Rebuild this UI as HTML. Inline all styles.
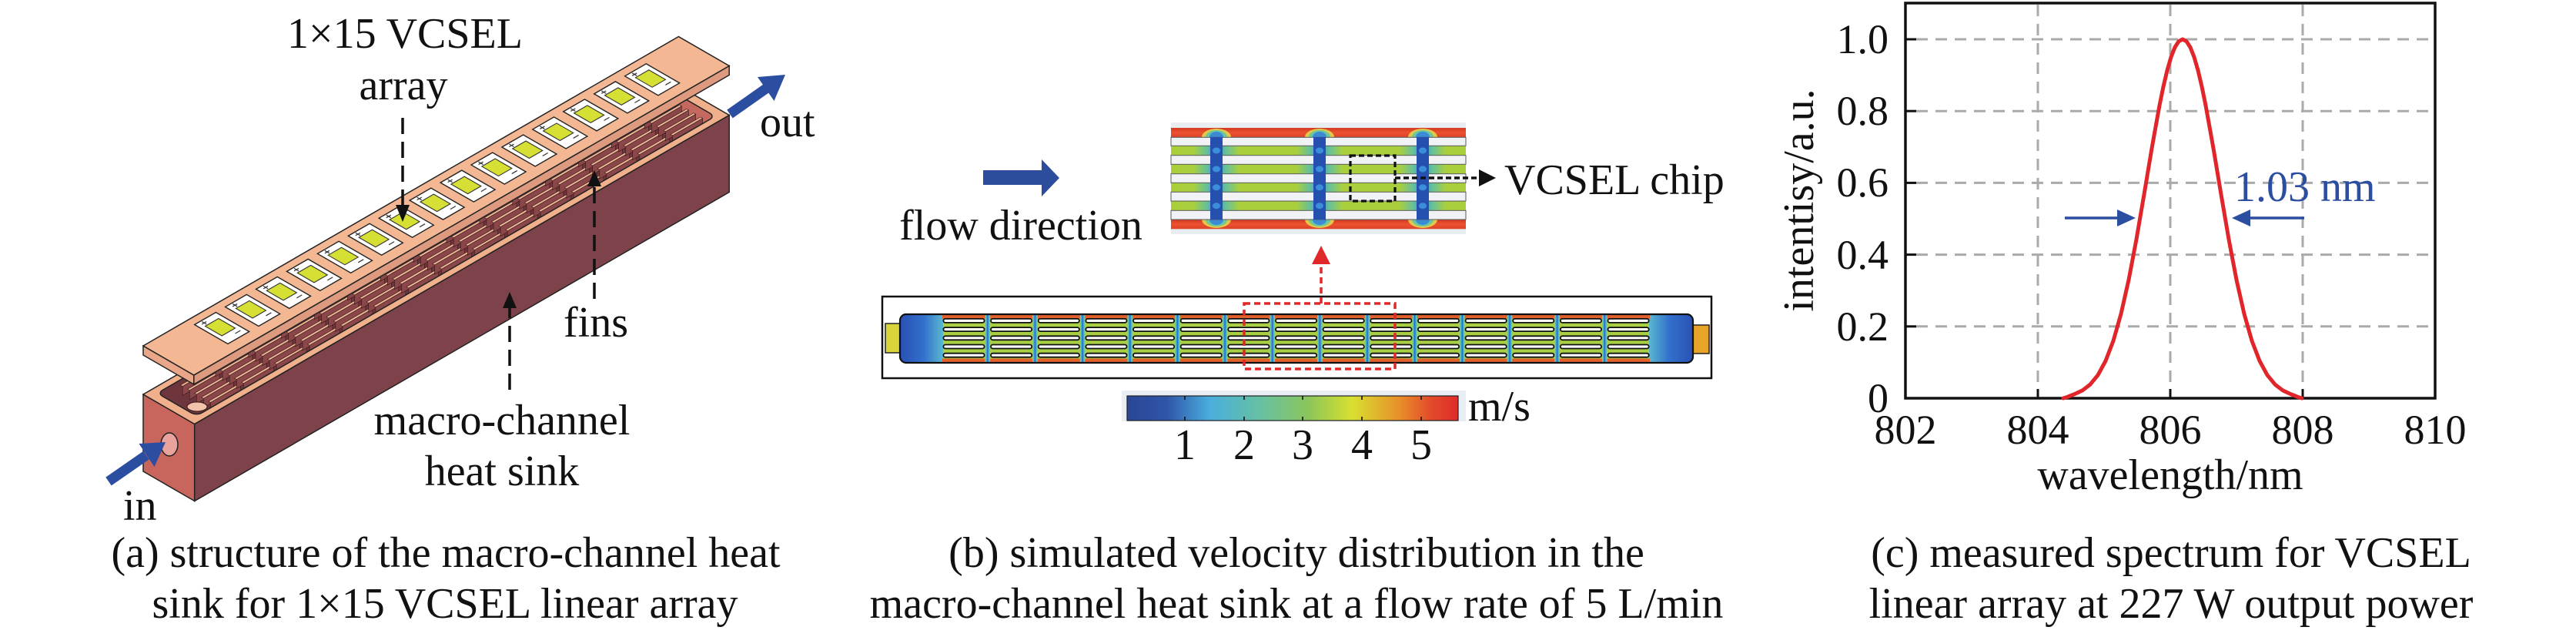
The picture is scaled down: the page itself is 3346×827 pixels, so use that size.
<!DOCTYPE html>
<html><head><meta charset="utf-8">
<style>
html,body{margin:0;padding:0;background:#fff;}
svg{display:block;}
text{font-family:"Liberation Serif","Times New Roman",serif;fill:#111;}
</style></head><body>
<svg xmlns="http://www.w3.org/2000/svg" width="3346" height="827" viewBox="0 0 3346 827">
<defs>
  <linearGradient id="cbar" x1="0" y1="0" x2="1" y2="0">
    <stop offset="0" stop-color="#2a4697"/>
    <stop offset="0.12" stop-color="#2f55a8"/>
    <stop offset="0.25" stop-color="#4aaedd"/>
    <stop offset="0.4" stop-color="#66c0a4"/>
    <stop offset="0.55" stop-color="#8cc65a"/>
    <stop offset="0.68" stop-color="#d8e030"/>
    <stop offset="0.82" stop-color="#e8902a"/>
    <stop offset="0.92" stop-color="#e24a2a"/>
    <stop offset="1" stop-color="#e02a2a"/>
  </linearGradient>
  <linearGradient id="redband" x1="0" y1="0" x2="0" y2="1">
    <stop offset="0" stop-color="#d23a22"/>
    <stop offset="0.5" stop-color="#ec5230"/>
    <stop offset="1" stop-color="#dc4226"/>
  </linearGradient>
  <linearGradient id="gapgrad" x1="0" y1="0" x2="1" y2="0">
    <stop offset="0" stop-color="#8fd07a"/>
    <stop offset="0.3" stop-color="#3eb0e0"/>
    <stop offset="0.5" stop-color="#2c5fc2"/>
    <stop offset="0.7" stop-color="#3eb0e0"/>
    <stop offset="1" stop-color="#8fd07a"/>
  </linearGradient>
  <linearGradient id="halo" x1="0" y1="0" x2="1" y2="0">
    <stop offset="0" stop-color="#5cbfa8" stop-opacity="0"/>
    <stop offset="0.3" stop-color="#5cbfa8" stop-opacity="0.9"/>
    <stop offset="0.5" stop-color="#3a8ad8"/>
    <stop offset="0.7" stop-color="#5cbfa8" stop-opacity="0.9"/>
    <stop offset="1" stop-color="#5cbfa8" stop-opacity="0"/>
  </linearGradient>
  <linearGradient id="plL" x1="0" y1="0" x2="1" y2="0">
    <stop offset="0" stop-color="#2a50b4"/>
    <stop offset="0.55" stop-color="#3270cc"/>
    <stop offset="1" stop-color="#5ab8d0"/>
  </linearGradient>
  <linearGradient id="plR" x1="0" y1="0" x2="1" y2="0">
    <stop offset="0" stop-color="#5ab8d0"/>
    <stop offset="0.45" stop-color="#3270cc"/>
    <stop offset="1" stop-color="#2a50b4"/>
  </linearGradient>
  <clipPath id="bodyclip"><rect x="1169" y="408" width="1030" height="63" rx="8"/></clipPath>

  <g id="fg">
    <rect x="0.9" y="413.9" width="53.2" height="5" rx="2.5" fill="#fff" stroke="#111" stroke-width="1.8"/>
    <rect x="0.9" y="425.1" width="53.2" height="5" rx="2.5" fill="#fff" stroke="#111" stroke-width="1.8"/>
    <rect x="0.9" y="436.3" width="53.2" height="5" rx="2.5" fill="#fff" stroke="#111" stroke-width="1.8"/>
    <rect x="0.9" y="447.5" width="53.2" height="5" rx="2.5" fill="#fff" stroke="#111" stroke-width="1.8"/>
    <rect x="0.9" y="458.7" width="53.2" height="5" rx="2.5" fill="#fff" stroke="#111" stroke-width="1.8"/>
  </g>
  <rect id="gap" x="-6.65" y="408" width="6.65" height="63" fill="url(#gapgrad)"/>

  <g id="pad">
    <rect x="-16" y="11" width="32" height="50" fill="#fff" stroke="#222" stroke-width="1.4" vector-effect="non-scaling-stroke"/>
    <rect x="-10" y="21" width="20" height="25" fill="#d6df33" stroke="#333" stroke-width="1.1" vector-effect="non-scaling-stroke"/>
    <path d="M-10,16 h7 M-6.5,12.5 v7" stroke="#333" stroke-width="1.2" vector-effect="non-scaling-stroke" fill="none"/>
    <path d="M3,53 h8" stroke="#333" stroke-width="1.2" vector-effect="non-scaling-stroke" fill="none"/>
  </g>
  <g id="fin3d" stroke="#3d1c1c" stroke-width="0.7">
    <polygon points="0,19 45,19 33,31 -12,31" fill="#8a4649" vector-effect="non-scaling-stroke"/>
    <rect x="0" y="16" width="45" height="3" fill="#eeb896" vector-effect="non-scaling-stroke"/>
    <polygon points="0,29.5 45,29.5 33,41.5 -12,41.5" fill="#8a4649" vector-effect="non-scaling-stroke"/>
    <rect x="0" y="26.5" width="45" height="3" fill="#eeb896" vector-effect="non-scaling-stroke"/>
    <polygon points="0,40 45,40 33,52 -12,52" fill="#8a4649" vector-effect="non-scaling-stroke"/>
    <rect x="0" y="37" width="45" height="3" fill="#eeb896" vector-effect="non-scaling-stroke"/>
    <polygon points="0,50.5 45,50.5 33,62.5 -12,62.5" fill="#8a4649" vector-effect="non-scaling-stroke"/>
    <rect x="0" y="47.5" width="45" height="3" fill="#eeb896" vector-effect="non-scaling-stroke"/>
    <polygon points="0,61 45,61 33,73 -12,73" fill="#8a4649" vector-effect="non-scaling-stroke"/>
    <rect x="0" y="58" width="45" height="3" fill="#eeb896" vector-effect="non-scaling-stroke"/>
  </g>
</defs>

<!-- ================= PANEL A ================= -->
<polygon points="186,512 252.7,550.5 252.7,650.5 186,612" fill="#c8655d" stroke="#222" stroke-width="1.5"/>
<ellipse cx="220" cy="577" rx="11" ry="15" fill="#e9a29c" stroke="#222" stroke-width="1.5"/>
<polygon points="252.7,550.5 947.2,149.5 947.2,249.5 252.7,650.5" fill="#7e434a" stroke="#222" stroke-width="1.5"/>
<g transform="matrix(0.866,-0.5,0.866,0.5,186,512)">
  <clipPath id="cav"><rect x="12" y="9" width="778" height="59" rx="8"/></clipPath>
  <rect x="12" y="9" width="778" height="59" rx="8" fill="#6e363c"/>
  <g clip-path="url(#cav)">
    <polygon points="790,12 790,68 772,86 772,30" fill="#c46860"/>
    <use href="#fin3d" x="40"/><use href="#fin3d" x="89.5"/><use href="#fin3d" x="139"/>
    <use href="#fin3d" x="188.5"/><use href="#fin3d" x="238"/><use href="#fin3d" x="287.5"/>
    <use href="#fin3d" x="337"/><use href="#fin3d" x="386.5"/><use href="#fin3d" x="436"/>
    <use href="#fin3d" x="485.5"/><use href="#fin3d" x="535"/><use href="#fin3d" x="584.5"/>
    <use href="#fin3d" x="634"/><use href="#fin3d" x="683.5"/><use href="#fin3d" x="733"/>
  </g>
  <path fill-rule="evenodd" d="M0,0 H802 V77 H0 Z M20,9 H782 A8,8 0 0 1 790,17 V60 A8,8 0 0 1 782,68 H20 A8,8 0 0 1 12,60 V17 A8,8 0 0 1 20,9 Z" fill="#f0b08c" stroke="#222" stroke-width="1.5" vector-effect="non-scaling-stroke"/>
</g>
<ellipse cx="256" cy="528" rx="13" ry="6" fill="#f2c2aa" stroke="#3a1a1a" stroke-width="1"/>
<polygon points="186,449 251.8,487 251.8,499 186,461" fill="#e9a688" stroke="#222" stroke-width="1.5"/>
<polygon points="251.8,487 947.2,85.5 947.2,97.5 251.8,499" fill="#dd9a7e" stroke="#222" stroke-width="1.5"/>
<g transform="matrix(0.866,-0.5,0.866,0.5,186,449)">
  <rect x="0" y="0" width="803" height="76" fill="#f3b794" stroke="#222" stroke-width="1.5" vector-effect="non-scaling-stroke"/>
  <use href="#pad" x="82"/><use href="#pad" x="128.1"/><use href="#pad" x="174.2"/>
  <use href="#pad" x="220.3"/><use href="#pad" x="266.4"/><use href="#pad" x="312.5"/>
  <use href="#pad" x="358.6"/><use href="#pad" x="404.7"/><use href="#pad" x="450.8"/>
  <use href="#pad" x="496.9"/><use href="#pad" x="543"/><use href="#pad" x="589.1"/>
  <use href="#pad" x="635.2"/><use href="#pad" x="681.3"/><use href="#pad" x="727.4"/>
</g>
<line x1="141" y1="625" x2="190" y2="591" stroke="#2c4ea1" stroke-width="13"/>
<polygon points="215,574 200.5,606 180.5,576" fill="#2c4ea1"/>
<line x1="948" y1="148" x2="995" y2="115" stroke="#2c4ea1" stroke-width="13"/>
<polygon points="1020,97 1005.5,131 984,100" fill="#2c4ea1"/>
<line x1="523" y1="153" x2="523" y2="268" stroke="#111" stroke-width="3.5" stroke-dasharray="21 10"/>
<polygon points="514,266 532,266 523,288" fill="#111"/>
<line x1="772" y1="388" x2="772" y2="240" stroke="#111" stroke-width="3.5" stroke-dasharray="21 10"/>
<polygon points="763,242 781,242 772,221" fill="#111"/>
<line x1="662" y1="506" x2="662" y2="398" stroke="#111" stroke-width="3.5" stroke-dasharray="21 10"/>
<polygon points="653,400 671,400 662,379" fill="#111"/>
<g font-size="56">
  <text x="526" y="62" text-anchor="middle">1×15 VCSEL</text>
  <text x="524" y="129" text-anchor="middle">array</text>
  <text x="987" y="177">out</text>
  <text x="160" y="675">in</text>
  <text x="732" y="437">fins</text>
  <text x="652" y="564" text-anchor="middle">macro-channel</text>
  <text x="652" y="630" text-anchor="middle">heat sink</text>
  <text x="579" y="736" text-anchor="middle">(a) structure of the macro-channel heat</text>
  <text x="578" y="802" text-anchor="middle">sink for 1×15 VCSEL linear array</text>
</g>

<!-- ================= PANEL B ================= -->
<polygon points="1277,221 1353,221 1353,207 1376,231 1353,255 1353,240 1277,240" fill="#2c4c9e"/>
<rect x="1521" y="159" width="383" height="145" fill="#e8edf2"/>
<rect x="1521" y="166" width="383" height="12.3" fill="url(#redband)"/>
<rect x="1521" y="285" width="383" height="12.3" fill="url(#redband)"/>
<g>
  <ellipse cx="1580" cy="178" rx="19" ry="11" fill="#e2c848"/><ellipse cx="1580" cy="178" rx="14" ry="9" fill="#6cc6a0"/><ellipse cx="1580" cy="178" rx="9" ry="7" fill="#3a8ad6"/>
  <ellipse cx="1714" cy="178" rx="19" ry="11" fill="#e2c848"/><ellipse cx="1714" cy="178" rx="14" ry="9" fill="#6cc6a0"/><ellipse cx="1714" cy="178" rx="9" ry="7" fill="#3a8ad6"/>
  <ellipse cx="1848" cy="178" rx="19" ry="11" fill="#e2c848"/><ellipse cx="1848" cy="178" rx="14" ry="9" fill="#6cc6a0"/><ellipse cx="1848" cy="178" rx="9" ry="7" fill="#3a8ad6"/>
  <ellipse cx="1580" cy="285" rx="19" ry="11" fill="#e2c848"/><ellipse cx="1580" cy="285" rx="14" ry="9" fill="#6cc6a0"/><ellipse cx="1580" cy="285" rx="9" ry="7" fill="#3a8ad6"/>
  <ellipse cx="1714" cy="285" rx="19" ry="11" fill="#e2c848"/><ellipse cx="1714" cy="285" rx="14" ry="9" fill="#6cc6a0"/><ellipse cx="1714" cy="285" rx="9" ry="7" fill="#3a8ad6"/>
  <ellipse cx="1848" cy="285" rx="19" ry="11" fill="#e2c848"/><ellipse cx="1848" cy="285" rx="14" ry="9" fill="#6cc6a0"/><ellipse cx="1848" cy="285" rx="9" ry="7" fill="#3a8ad6"/>
</g>
<rect x="1521" y="178.3" width="383" height="106.7" fill="#a9cf3d"/>
<rect x="1550" y="178.3" width="60" height="106.7" fill="url(#halo)"/>
<rect x="1684" y="178.3" width="60" height="106.7" fill="url(#halo)"/>
<rect x="1818" y="178.3" width="60" height="106.7" fill="url(#halo)"/>
<g fill="#f0f2f5" stroke="#5a5a5a" stroke-width="1">
  <rect x="1521" y="178.3" width="383" height="11"/>
  <rect x="1521" y="201.7" width="383" height="11.6"/>
  <rect x="1521" y="225.7" width="383" height="11.6"/>
  <rect x="1521" y="249.3" width="383" height="11.7"/>
  <rect x="1521" y="273.3" width="383" height="11.7"/>
</g>
<g fill="#2550b0">
  <rect x="1572" y="178" width="16" height="107"/>
  <rect x="1706" y="178" width="16" height="107"/>
  <rect x="1840" y="178" width="16" height="107"/>
</g>
<g fill="#3b8ed8">
  <ellipse cx="1580" cy="195.5" rx="5" ry="4"/><ellipse cx="1580" cy="219.5" rx="5" ry="4"/><ellipse cx="1580" cy="243.3" rx="5" ry="4"/><ellipse cx="1580" cy="267.2" rx="5" ry="4"/>
  <ellipse cx="1714" cy="195.5" rx="5" ry="4"/><ellipse cx="1714" cy="219.5" rx="5" ry="4"/><ellipse cx="1714" cy="243.3" rx="5" ry="4"/><ellipse cx="1714" cy="267.2" rx="5" ry="4"/>
  <ellipse cx="1848" cy="195.5" rx="5" ry="4"/><ellipse cx="1848" cy="219.5" rx="5" ry="4"/><ellipse cx="1848" cy="243.3" rx="5" ry="4"/><ellipse cx="1848" cy="267.2" rx="5" ry="4"/>
</g>
<rect x="1754" y="202" width="58" height="59" fill="none" stroke="#111" stroke-width="3.2" stroke-dasharray="7 4"/>
<line x1="1812" y1="231" x2="1922" y2="231" stroke="#111" stroke-width="3.5" stroke-dasharray="7 4"/>
<polygon points="1921,220 1943,231 1921,242" fill="#111"/>

<rect x="1146" y="385" width="1077" height="106" fill="#fff" stroke="#111" stroke-width="2.5"/>
<rect x="1150" y="420" width="19" height="38" fill="#d8d43a" stroke="#222" stroke-width="1.5"/>
<rect x="2199" y="422" width="21" height="37" fill="#e8a428" stroke="#222" stroke-width="1.5"/>
<g clip-path="url(#bodyclip)">
  <rect x="1169" y="408" width="1030" height="63" fill="#a8cf44"/>
  <rect x="1169" y="408" width="56" height="63" fill="url(#plL)"/>
  <rect x="2142" y="408" width="58" height="63" fill="url(#plR)"/>
  <rect x="1224" y="408" width="919" height="6" fill="#e2602c"/>
  <rect x="1224" y="465.5" width="919" height="6" fill="#e2602c"/>
  <use href="#gap" x="1286.15"/><use href="#gap" x="1347.8"/><use href="#gap" x="1409.45"/>
  <use href="#gap" x="1471.1"/><use href="#gap" x="1532.75"/><use href="#gap" x="1594.4"/>
  <use href="#gap" x="1656.05"/><use href="#gap" x="1717.7"/><use href="#gap" x="1779.35"/>
  <use href="#gap" x="1841"/><use href="#gap" x="1902.65"/><use href="#gap" x="1964.3"/>
  <use href="#gap" x="2025.95"/><use href="#gap" x="2087.6"/>
  <use href="#fg" x="1224.5"/><use href="#fg" x="1286.15"/><use href="#fg" x="1347.8"/>
  <use href="#fg" x="1409.45"/><use href="#fg" x="1471.1"/><use href="#fg" x="1532.75"/>
  <use href="#fg" x="1594.4"/><use href="#fg" x="1656.05"/><use href="#fg" x="1717.7"/>
  <use href="#fg" x="1779.35"/><use href="#fg" x="1841"/><use href="#fg" x="1902.65"/>
  <use href="#fg" x="1964.3"/><use href="#fg" x="2025.95"/><use href="#fg" x="2087.6"/>
</g>
<rect x="1169" y="408" width="1030" height="63" rx="8" fill="none" stroke="#111" stroke-width="2.2"/>
<rect x="1616" y="394" width="196" height="85" fill="none" stroke="#e02828" stroke-width="3.5" stroke-dasharray="8 5"/>
<line x1="1716" y1="394" x2="1716" y2="342" stroke="#e02828" stroke-width="3.5" stroke-dasharray="8 5"/>
<polygon points="1704,343 1728,343 1716,319" fill="#e02828"/>
<rect x="1457" y="507" width="447" height="40" fill="#e9eef4"/>
<rect x="1464" y="514" width="430" height="32" fill="url(#cbar)" stroke="#222" stroke-width="1.2"/>
<g stroke="#111" stroke-width="1.6">
  <line x1="1539" y1="514" x2="1539" y2="519"/><line x1="1539" y1="541" x2="1539" y2="546"/>
  <line x1="1616" y1="514" x2="1616" y2="519"/><line x1="1616" y1="541" x2="1616" y2="546"/>
  <line x1="1692" y1="514" x2="1692" y2="519"/><line x1="1692" y1="541" x2="1692" y2="546"/>
  <line x1="1769" y1="514" x2="1769" y2="519"/><line x1="1769" y1="541" x2="1769" y2="546"/>
  <line x1="1846" y1="514" x2="1846" y2="519"/><line x1="1846" y1="541" x2="1846" y2="546"/>
</g>
<g font-size="56">
  <text x="1539" y="596" text-anchor="middle">1</text>
  <text x="1616" y="596" text-anchor="middle">2</text>
  <text x="1692" y="596" text-anchor="middle">3</text>
  <text x="1769" y="596" text-anchor="middle">4</text>
  <text x="1846" y="596" text-anchor="middle">5</text>
  <text x="1907" y="546">m/s</text>
  <text x="1326" y="311" text-anchor="middle">flow direction</text>
  <text x="1954" y="252">VCSEL chip</text>
  <text x="1684" y="736" text-anchor="middle">(b) simulated velocity distribution in the</text>
  <text x="1684" y="802" text-anchor="middle">macro-channel heat sink at a flow rate of 5 L/min</text>
</g>

<!-- ================= PANEL C ================= -->
<g stroke="#aaaaaa" stroke-width="3" stroke-dasharray="15 10" fill="none">
  <line x1="2489" y1="51" x2="3163" y2="51"/>
  <line x1="2489" y1="144.2" x2="3163" y2="144.2"/>
  <line x1="2489" y1="237.4" x2="3163" y2="237.4"/>
  <line x1="2489" y1="330.6" x2="3163" y2="330.6"/>
  <line x1="2489" y1="423.8" x2="3163" y2="423.8"/>
  <line x1="2647" y1="6" x2="2647" y2="505"/>
  <line x1="2819" y1="6" x2="2819" y2="505"/>
  <line x1="2991" y1="6" x2="2991" y2="505"/>
</g>
<g stroke="#111" stroke-width="3">
  <line x1="2475" y1="51" x2="2489" y2="51"/>
  <line x1="2475" y1="144.2" x2="2489" y2="144.2"/>
  <line x1="2475" y1="237.4" x2="2489" y2="237.4"/>
  <line x1="2475" y1="330.6" x2="2489" y2="330.6"/>
  <line x1="2475" y1="423.8" x2="2489" y2="423.8"/>
  <line x1="2647" y1="517" x2="2647" y2="505"/>
  <line x1="2819" y1="517" x2="2819" y2="505"/>
  <line x1="2991" y1="517" x2="2991" y2="505"/>
</g>
<rect x="2475" y="4" width="688" height="513" fill="none" stroke="#111" stroke-width="3.5"/>
<polyline fill="none" stroke="#e0262a" stroke-width="5" stroke-linejoin="round" stroke-linecap="round"
 points="2680,517 2685,515.5 2695,511.5 2705,506.8 2715,499.1 2725,486.9 2735,468.5 2745,442.5 2755,407.5 2765,363.3 2775,310.7 2785,252.4 2795,192.6 2805,136.9 2810,112.5 2815,91.3 2820,74.1 2825,61.4 2830,53.6 2835,51 2840,53.6 2845,61.4 2850,74.1 2855,91.3 2860,112.5 2865,136.9 2875,192.6 2885,252.4 2895,310.7 2905,363.3 2915,407.5 2925,442.5 2935,468.5 2945,486.9 2955,499.1 2965,506.8 2975,511.5 2985,515.5 2990,517"/>
<line x1="2682" y1="283" x2="2756" y2="283" stroke="#2c4ea1" stroke-width="3.5"/>
<polygon points="2774,283 2750,272 2750,294" fill="#2c4ea1"/>
<line x1="2993" y1="283" x2="2917" y2="283" stroke="#2c4ea1" stroke-width="3.5"/>
<polygon points="2899,283 2923,272 2923,294" fill="#2c4ea1"/>
<text x="2902" y="261" font-size="56" style="fill:#2c4ea1">1.03 nm</text>
<g font-size="54">
  <text x="2453" y="69" text-anchor="end">1.0</text>
  <text x="2453" y="162" text-anchor="end">0.8</text>
  <text x="2453" y="255" text-anchor="end">0.6</text>
  <text x="2453" y="349" text-anchor="end">0.4</text>
  <text x="2453" y="442" text-anchor="end">0.2</text>
  <text x="2453" y="535" text-anchor="end">0</text>
  <text x="2475" y="576" text-anchor="middle">802</text>
  <text x="2647" y="576" text-anchor="middle">804</text>
  <text x="2819" y="576" text-anchor="middle">806</text>
  <text x="2991" y="576" text-anchor="middle">808</text>
  <text x="3163" y="576" text-anchor="middle">810</text>
</g>
<g font-size="56">
  <text transform="translate(2355,260) rotate(-90)" text-anchor="middle">intentisy/a.u.</text>
  <text x="2819" y="635" text-anchor="middle">wavelength/nm</text>
  <text x="2820" y="736" text-anchor="middle">(c) measured spectrum for VCSEL</text>
  <text x="2820" y="802" text-anchor="middle">linear array at 227 W output power</text>
</g>
</svg>
</body></html>
